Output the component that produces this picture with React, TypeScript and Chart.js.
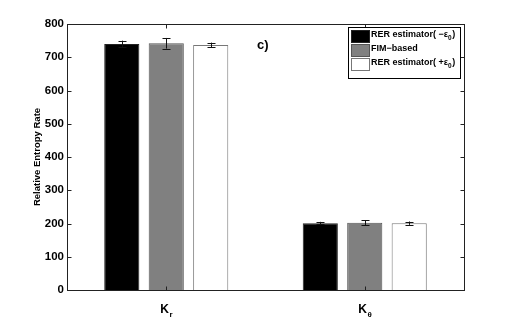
import React, { useEffect, useRef } from "react";
import { Chart, registerables } from "chart.js";

Chart.register(...registerables);

const categories = ["Kr", "Kθ"];
const catMain = ["K", "K"];
const catSub = ["r", "θ"];
const seriesNames = ["RER estimator( −ε", "FIM−based", "RER estimator( +ε"];
const seriesSub = ["0", "", "0"];
const rerMinus = [740, 201];
const fimBased = [742, 202];
const rerPlus = [737, 201];
const errMinus = [10, 4];
const errFim = [16, 8];
const errPlus = [7, 5];
const yTicks = [0, 100, 200, 300, 400, 500, 600, 700, 800];
const panelLabel = "c)";
const yTitle = "Relative Entropy Rate";

const fills = ["#000000", "#808080", "#ffffff"];
const borders = ["#222222", "#555555", "#777777"];
const FONT = "'Liberation Sans', Arial, Helvetica, sans-serif";

export default function App() {
  const ref = useRef<HTMLCanvasElement | null>(null);
  useEffect(() => {
    if (!ref.current) return;
    const errs = [errMinus, errFim, errPlus];
    const plugin = {
      id: "matlabDecor",
      afterDatasetsDraw(chart: any) {
        const ctx = chart.ctx;
        const ca = chart.chartArea;
        const y = chart.scales.y;
        const x = chart.scales.x;
        ctx.save();
        // error bars
        chart.data.datasets.forEach((ds: any, di: number) => {
          const meta = chart.getDatasetMeta(di);
          meta.data.forEach((bar: any, i: number) => {
            const v = ds.data[i];
            const e = errs[di][i];
            const yt = y.getPixelForValue(v + e);
            const yb = y.getPixelForValue(v - e);
            const cx = Math.round(bar.x) + 0.5;
            ctx.strokeStyle = "#111";
            ctx.lineWidth = 1;
            ctx.beginPath();
            ctx.moveTo(cx, yt);
            ctx.lineTo(cx, yb);
            ctx.moveTo(cx - 4, Math.round(yt) + 0.5);
            ctx.lineTo(cx + 4, Math.round(yt) + 0.5);
            ctx.moveTo(cx - 4, Math.round(yb) + 0.5);
            ctx.lineTo(cx + 4, Math.round(yb) + 0.5);
            ctx.stroke();
          });
        });
        // frame
        ctx.strokeStyle = "#222";
        ctx.lineWidth = 1;
        const L = Math.round(ca.left) + 0.5;
        const R = Math.round(ca.right) + 0.5;
        const T = Math.round(ca.top) + 0.5;
        const B = Math.round(ca.bottom) + 0.5;
        ctx.strokeRect(L, T, R - L, B - T);
        // inward ticks
        ctx.beginPath();
        yTicks.forEach((t) => {
          const py = Math.round(y.getPixelForValue(t)) + 0.5;
          ctx.moveTo(L, py);
          ctx.lineTo(L + 4, py);
          ctx.moveTo(R, py);
          ctx.lineTo(R - 4, py);
        });
        categories.forEach((_, i) => {
          const px = Math.round(x.getPixelForValue(i)) + 0.5;
          ctx.moveTo(px, B);
          ctx.lineTo(px, B - 4);
          ctx.moveTo(px, T);
          ctx.lineTo(px, T + 4);
        });
        ctx.stroke();
        // x labels
        ctx.fillStyle = "#000";
        ctx.textBaseline = "alphabetic";
        categories.forEach((_, i) => {
          const px = x.getPixelForValue(i);
          ctx.font = "bold 12px " + FONT;
          const w1 = ctx.measureText(catMain[i]).width;
          ctx.font = "bold 8px " + FONT;
          const w2 = ctx.measureText(catSub[i]).width;
          const start = px - (w1 + w2) / 2;
          ctx.font = "bold 12px " + FONT;
          ctx.textAlign = "left";
          ctx.fillText(catMain[i], start, 313);
          ctx.font = "bold 8px " + FONT;
          ctx.fillText(catSub[i], start + w1 + 0.5, 317);
        });
        // panel label
        ctx.font = "bold 13px " + FONT;
        ctx.textAlign = "left";
        ctx.fillText(panelLabel, 257, 49);
        // y title
        ctx.save();
        ctx.translate(40, 157);
        ctx.rotate(-Math.PI / 2);
        ctx.textAlign = "center";
        ctx.font = "bold 9.5px " + FONT;
        ctx.fillText(yTitle, 0, 0);
        ctx.restore();
        // legend
        ctx.fillStyle = "#fff";
        ctx.fillRect(348, 27, 112, 51);
        ctx.strokeStyle = "#000";
        ctx.strokeRect(348.5, 27.5, 112, 51);
        const rowsY = [30, 44, 58];
        seriesNames.forEach((name, i) => {
          ctx.fillStyle = fills[i];
          ctx.fillRect(351, rowsY[i], 18, 12);
          ctx.strokeStyle = borders[i];
          ctx.strokeRect(351.5, rowsY[i] + 0.5, 18, 12);
          ctx.fillStyle = "#000";
          ctx.font = "bold 9px " + FONT;
          ctx.textAlign = "left";
          const ty = rowsY[i] + 7;
          ctx.fillText(name, 371, ty);
          if (seriesSub[i]) {
            const w = ctx.measureText(name).width;
            ctx.font = "bold 6.5px " + FONT;
            ctx.fillText(seriesSub[i], 371 + w, ty + 3);
            const ws = ctx.measureText(seriesSub[i]).width;
            ctx.font = "bold 9px " + FONT;
            ctx.fillText(")", 371 + w + ws + 0.5, ty);
          }
        });
        ctx.restore();
      },
    };
    const chart = new Chart(ref.current, {
      type: "bar",
      data: {
        labels: categories,
        datasets: [rerMinus, fimBased, rerPlus].map((d, i) => ({
          label: seriesNames[i],
          data: d,
          backgroundColor: fills[i],
          borderColor: borders[i],
          borderWidth: 1,
          categoryPercentage: 0.672,
          barPercentage: 0.79,
        })),
      },
      options: {
        animation: false,
        responsive: false,
        layout: { padding: { top: 24, right: 48, left: 0, bottom: 0 } },
        plugins: { legend: { display: false }, tooltip: { enabled: false } },
        scales: {
          x: {
            grid: { display: false, drawTicks: false },
            border: { display: false },
            ticks: { display: false },
            afterFit: (s: any) => {
              s.height = 36;
            },
          },
          y: {
            min: 0,
            max: 800,
            afterBuildTicks: (s: any) => {
              s.ticks = yTicks.map((v) => ({ value: v }));
            },
            grid: { display: false, drawTicks: false },
            border: { display: false },
            ticks: {
              color: "#000",
              padding: 3,
              font: { family: FONT, size: 11.5, weight: "bold" },
            },
            afterFit: (s: any) => {
              s.width = 67;
            },
          },
        },
      },
      plugins: [plugin],
    });
    return () => chart.destroy();
  }, []);
  return (
    <div style={{ position: "fixed", left: 0, top: 0, width: 512, height: 326, background: "#fff" }}>
      <canvas ref={ref} width={512} height={326} style={{ width: 512, height: 326 }} />
    </div>
  );
}
